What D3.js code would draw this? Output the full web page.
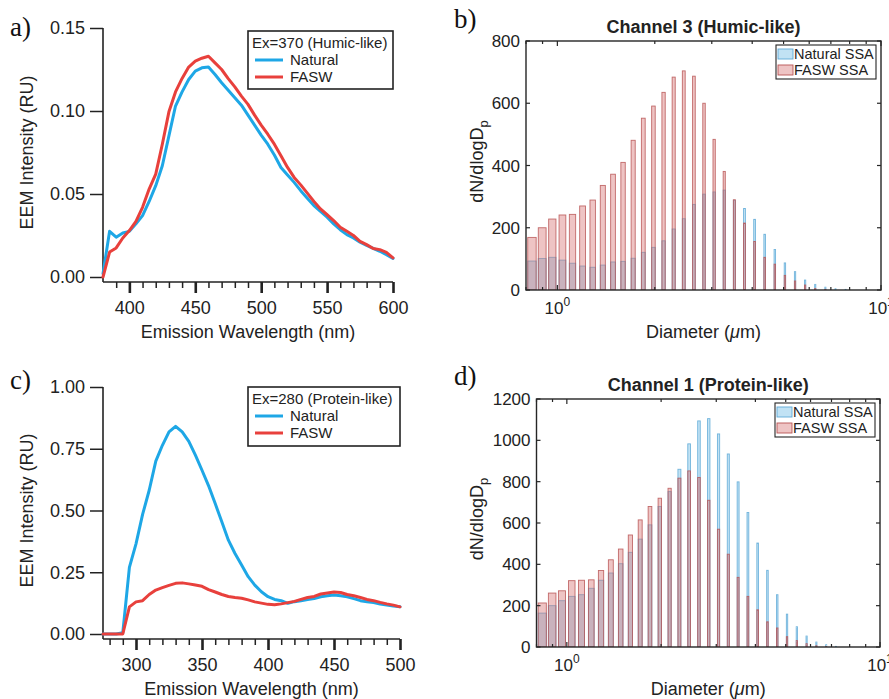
<!DOCTYPE html>
<html>
<head>
<meta charset="utf-8">
<script src="https://cdn.jsdelivr.net/npm/d3@7"></script>
<style>
  body { margin: 0; background: #fff; }
  text { font-family: "Liberation Sans", Arial, sans-serif; fill: #222; }
</style>
</head>
<body>
<svg id="fig" width="889" height="699"></svg>
<script>
// ---- Emission spectra, Ex = 370 nm (humic-like) ----
const humicWavelength = [380, 385, 390, 395, 400, 405, 410, 415, 420, 425, 430, 435, 440, 445, 450, 455, 460,
  465, 470, 475, 480, 485, 490, 495, 500, 505, 510, 515, 520, 525, 530, 535, 540, 545, 550, 555, 560,
  565, 570, 575, 580, 585, 590, 595, 600];
const humicNatural = [0.002, 0.0275, 0.0240, 0.0265, 0.0275, 0.0320, 0.0370, 0.0455, 0.0550, 0.0670, 0.0850,
  0.1030, 0.1115, 0.1190, 0.1240, 0.1260, 0.1265, 0.1220, 0.1170, 0.1125, 0.1080, 0.1035, 0.0975, 0.0915,
  0.0855, 0.0800, 0.0735, 0.0660, 0.0615, 0.0570, 0.0520, 0.0475, 0.0430, 0.0395, 0.0360, 0.0320, 0.0285,
  0.0255, 0.0235, 0.0210, 0.0190, 0.0172, 0.0155, 0.0135, 0.0112];
const humicFASW = [0.000, 0.0150, 0.0175, 0.0235, 0.0280, 0.0335, 0.0420, 0.0530, 0.0620, 0.0800, 0.0995,
  0.1115, 0.1196, 0.1265, 0.1300, 0.1318, 0.1330, 0.1290, 0.1250, 0.1195, 0.1145, 0.1090, 0.1040, 0.0975,
  0.0915, 0.0860, 0.0800, 0.0730, 0.0660, 0.0600, 0.0555, 0.0505, 0.0455, 0.0410, 0.0375, 0.0340, 0.0300,
  0.0275, 0.0250, 0.0215, 0.0195, 0.0172, 0.0165, 0.0148, 0.0115];

// ---- Emission spectra, Ex = 280 nm (protein-like) ----
const proteinWavelength = [275, 280, 285, 290, 295, 300, 305, 310, 315, 320, 325, 330, 335, 340, 345, 350, 355,
  360, 365, 370, 375, 380, 385, 390, 395, 400, 405, 410, 415, 420, 425, 430, 435, 440, 445, 450, 455,
  460, 465, 470, 475, 480, 485, 490, 495, 500];
const proteinNatural = [0, 0, 0, 0.005, 0.270, 0.365, 0.484, 0.582, 0.700, 0.764, 0.818, 0.841, 0.818, 0.780,
  0.724, 0.663, 0.600, 0.528, 0.454, 0.380, 0.326, 0.279, 0.232, 0.198, 0.171, 0.151, 0.140, 0.135, 0.124,
  0.131, 0.135, 0.140, 0.144, 0.151, 0.155, 0.158, 0.155, 0.151, 0.143, 0.135, 0.131, 0.127, 0.121, 0.117,
  0.113, 0.110];
const proteinFASW = [0, 0, 0, 0, 0.110, 0.130, 0.135, 0.160, 0.178, 0.188, 0.197, 0.205, 0.207, 0.203, 0.198,
  0.193, 0.180, 0.170, 0.160, 0.152, 0.148, 0.145, 0.138, 0.130, 0.125, 0.120, 0.118, 0.122, 0.127, 0.132,
  0.140, 0.148, 0.152, 0.162, 0.166, 0.170, 0.168, 0.160, 0.155, 0.148, 0.140, 0.135, 0.128, 0.122, 0.117,
  0.110];

// ---- Size distributions (dN/dlogDp) per size channel ----
const diameter = [0.835, 0.898, 0.965, 1.037, 1.114, 1.197, 1.286, 1.382, 1.486, 1.596, 1.715, 1.843, 1.981,
  2.129, 2.288, 2.458, 2.642, 2.839, 3.051, 3.278, 3.523, 3.786, 4.068, 4.371, 4.698, 5.048, 5.425, 5.829,
  6.264, 6.732, 7.234, 7.774, 8.354, 8.977, 9.647];
const ch3Natural = [93, 101, 105, 96, 86, 77, 73, 80, 90, 92, 102, 121, 137, 158, 196, 229, 275, 308, 315, 321,
  288, 262, 227, 179, 130, 87, 59, 32, 18, 9, 4, 2, 0, 0, 0];
const ch3FASW = [169, 200, 228, 241, 243, 270, 289, 336, 372, 410, 481, 552, 591, 635, 684, 704, 687, 600, 484,
  381, 290, 215, 156, 105, 83, 47, 29, 16, 5, 2, 0, 0, 0, 0, 0];
const ch1Natural = [164, 200, 224, 245, 253, 284, 323, 358, 403, 458, 522, 591, 680, 752, 860, 983, 1094, 1105,
  1031, 934, 799, 651, 503, 371, 253, 159, 98, 53, 24, 11, 3, 0, 0, 0, 0];
const ch1FASW = [213, 261, 272, 321, 323, 325, 370, 422, 474, 542, 615, 680, 720, 768, 817, 852, 820, 710, 570,
  449, 337, 245, 180, 122, 92, 50, 31, 16, 6, 2, 0, 0, 0, 0, 0];

// ---- Tick values ----
const humicXTicks = [400, 450, 500, 550, 600];
const humicXMinor = [390, 410, 420, 430, 440, 460, 470, 480, 490, 510, 520, 530, 540, 560, 570, 580, 590];
const humicYTicks = [0, 0.05, 0.10, 0.15];
const proteinXTicks = [300, 350, 400, 450, 500];
const proteinXMinor = [280, 290, 310, 320, 330, 340, 360, 370, 380, 390, 410, 420, 430, 440, 460, 470, 480, 490];
const proteinYTicks = [0, 0.25, 0.50, 0.75, 1.00];
const sizeXMajor = [1, 10];
const sizeXMinor = [0.8, 0.9, 2, 3, 4, 5, 6, 7, 8, 9];
const ch3YTicks = [0, 200, 400, 600, 800];
const ch1YTicks = [0, 200, 400, 600, 800, 1000, 1200];

const BLUE = "#1ea7e6", RED = "#e8403c", INK = "#222";
const svg = d3.select("#fig");
svg.append("rect").attr("width", 889).attr("height", 699).attr("fill", "#fff");

function panelLabel(txt, x, y) {
  svg.append("text").attr("x", x).attr("y", y).text(txt)
    .style("font-family", '"Liberation Serif", "Times New Roman", serif')
    .style("font-size", "27px").style("fill", "#111");
}

// Igor-style spectrum panel with offset x axis
function spectrumPanel(c) {
  const g = svg.append("g");
  const x = d3.scaleLinear().domain(c.xDomain).range([c.left, c.right]);
  const y = d3.scaleLinear().domain(c.yDomain).range([c.bottom, c.top]);
  const axisY = c.bottom + 5;

  // y axis
  const ya = g.append("g").attr("transform", `translate(${c.left},0)`)
    .call(d3.axisLeft(y).tickValues(c.yTicks).tickFormat(d3.format(c.yFmt)).tickSize(13).tickPadding(5));
  ya.select(".domain").remove();
  ya.selectAll(".tick line").attr("stroke", INK).attr("stroke-width", 1.5);
  ya.selectAll(".tick text").style("font-size", "18px").style("font-family", '"Liberation Sans", Arial, sans-serif').attr("fill", INK);
  g.append("line").attr("x1", c.left).attr("x2", c.left).attr("y1", c.top).attr("y2", axisY)
    .attr("stroke", INK).attr("stroke-width", 1.6);

  // x axis (major + minor)
  const xa = g.append("g").attr("transform", `translate(0,${axisY})`)
    .call(d3.axisBottom(x).tickValues(c.xTicks).tickFormat(d3.format("d")).tickSize(11).tickPadding(8));
  xa.select(".domain").remove();
  xa.selectAll(".tick line").attr("stroke", INK).attr("stroke-width", 2.6);
  xa.selectAll(".tick text").style("font-size", "18px").style("font-family", '"Liberation Sans", Arial, sans-serif').attr("fill", INK);
  const xm = g.append("g").attr("transform", `translate(0,${axisY})`)
    .call(d3.axisBottom(x).tickValues(c.xMinor).tickFormat("").tickSize(6));
  xm.select(".domain").remove();
  xm.selectAll(".tick line").attr("stroke", INK).attr("stroke-width", 1.5);
  g.append("line").attr("x1", c.left).attr("x2", c.right).attr("y1", axisY).attr("y2", axisY)
    .attr("stroke", INK).attr("stroke-width", 1.6);

  // titles
  g.append("text").attr("x", (c.left + c.right) / 2).attr("y", axisY + 56).attr("text-anchor", "middle")
    .style("font-size", "18px").text("Emission Wavelength (nm)");
  g.append("text").attr("transform", `translate(33,${(c.top + c.bottom) / 2}) rotate(-90)`)
    .attr("text-anchor", "middle").style("font-size", "18px").text("EEM Intensity (RU)");

  // curves
  const line = d3.line().x(d => x(d[0])).y(d => y(d[1]));
  [[c.natural, BLUE], [c.fasw, RED]].forEach(([vals, col]) => {
    g.append("path").datum(c.wl.map((w, i) => [w, vals[i]]))
      .attr("d", line).attr("fill", "none").attr("stroke", col)
      .attr("stroke-width", 3).attr("stroke-linejoin", "round").attr("stroke-linecap", "round");
  });

  // legend
  const L = c.legend;
  g.append("rect").attr("x", L.x).attr("y", L.y).attr("width", L.w).attr("height", L.h)
    .attr("fill", "#fff").attr("stroke", INK).attr("stroke-width", 1.6);
  g.append("text").attr("x", L.x + 4).attr("y", L.y + 17).style("font-size", "15px").text(L.title);
  [["Natural", BLUE], ["FASW", RED]].forEach(([name, col], i) => {
    const ly = L.y + 29 + i * 17;
    g.append("line").attr("x1", L.x + 7).attr("x2", L.x + 35).attr("y1", ly).attr("y2", ly)
      .attr("stroke", col).attr("stroke-width", 3);
    g.append("text").attr("x", L.x + 42).attr("y", ly + 5).style("font-size", "15px").text(name);
  });
}

// MATLAB-style boxed histogram panel on a log diameter axis
function sizePanel(c) {
  const g = svg.append("g");
  const x = d3.scaleLog().domain([0.8, 10]).range([c.left, c.right]);
  const y = d3.scaleLinear().domain(c.yDomain).range([c.bottom, c.top]);
  const halfWidth = 0.025; // bar width in µm

  const clip = "clip-" + c.id;
  g.append("clipPath").attr("id", clip).append("rect")
    .attr("x", c.left).attr("y", c.top).attr("width", c.right - c.left).attr("height", c.bottom - c.top);

  const bars = g.append("g").attr("clip-path", `url(#${clip})`);
  [[c.natural, "rgb(100,182,228)", "rgb(95,170,215)"], [c.fasw, "rgb(212,108,108)", "rgb(185,85,85)"]]
    .forEach(([vals, fill, edge]) => {
      bars.selectAll(null).data(diameter.map((d, i) => [d, vals[i]]).filter(d => d[1] > 0))
        .enter().append("rect")
        .attr("x", d => x(d[0] - halfWidth))
        .attr("width", d => x(d[0] + halfWidth) - x(d[0] - halfWidth))
        .attr("y", d => y(d[1]))
        .attr("height", d => y(0) - y(d[1]))
        .attr("fill", fill).attr("fill-opacity", 0.4)
        .attr("stroke", edge).attr("stroke-opacity", 0.85).attr("stroke-width", 0.9);
    });

  // frame
  g.append("rect").attr("x", c.left).attr("y", c.top).attr("width", c.right - c.left)
    .attr("height", c.bottom - c.top).attr("fill", "none").attr("stroke", "#262626").attr("stroke-width", 1.4);

  // ticks pointing inward on all four sides
  const tk = g.append("g").attr("stroke", "#262626").attr("stroke-width", 1.2);
  c.yTicks.forEach(v => {
    tk.append("line").attr("x1", c.left).attr("x2", c.left + 4).attr("y1", y(v)).attr("y2", y(v));
    tk.append("line").attr("x1", c.right).attr("x2", c.right - 4).attr("y1", y(v)).attr("y2", y(v));
  });
  sizeXMajor.concat(sizeXMinor).forEach(v => {
    const len = sizeXMajor.includes(v) ? 5 : 3;
    tk.append("line").attr("x1", x(v)).attr("x2", x(v)).attr("y1", c.bottom).attr("y2", c.bottom - len);
    tk.append("line").attr("x1", x(v)).attr("x2", x(v)).attr("y1", c.top).attr("y2", c.top + len);
  });

  // y tick labels
  g.selectAll(null).data(c.yTicks).enter().append("text")
    .attr("x", c.left - 6).attr("y", d => y(d) + 6).attr("text-anchor", "end")
    .style("font-size", "17px").text(d => d);

  // x tick labels as powers of ten
  sizeXMajor.forEach(v => {
    const t = g.append("text").attr("x", x(v)).attr("y", c.bottom + 24).attr("text-anchor", "middle")
      .style("font-size", "17px");
    t.append("tspan").text("10");
    t.append("tspan").attr("dy", -8).style("font-size", "12px").text(String(Math.round(Math.log10(v))));
  });

  // axis titles
  const xt = g.append("text").attr("x", (c.left + c.right) / 2).attr("y", c.bottom + 48)
    .attr("text-anchor", "middle").style("font-size", "18px");
  xt.append("tspan").text("Diameter (");
  xt.append("tspan").style("font-style", "italic").text("\u03bc");
  xt.append("tspan").text("m)");

  const yt = g.append("text").attr("transform", `translate(483,${(c.top + c.bottom) / 2 - 4}) rotate(-90)`)
    .attr("text-anchor", "middle").style("font-size", "18px");
  yt.append("tspan").text("dN/dlogD");
  yt.append("tspan").attr("dy", 5).style("font-size", "13px").text("p");

  g.append("text").attr("x", (c.left + c.right) / 2).attr("y", c.top - 8).attr("text-anchor", "middle")
    .style("font-size", "18px").style("font-weight", "bold").text(c.title);

  // legend
  const lx = c.right - 105, ly = c.top + 4;
  g.append("rect").attr("x", lx).attr("y", ly).attr("width", 100).attr("height", 34)
    .attr("fill", "#fff").attr("stroke", "#262626").attr("stroke-width", 1.1);
  [["Natural SSA", "rgb(100,182,228)", "rgb(95,170,215)"], ["FASW SSA", "rgb(212,108,108)", "rgb(185,85,85)"]]
    .forEach(([name, fill, edge], i) => {
      const cy = ly + 9 + i * 16;
      g.append("rect").attr("x", lx + 2).attr("y", cy - 5).attr("width", 15).attr("height", 10)
        .attr("fill", fill).attr("fill-opacity", 0.4).attr("stroke", edge).attr("stroke-width", 0.9);
      g.append("text").attr("x", lx + 18).attr("y", cy + 5).style("font-size", "14.5px").text(name);
    });
}

spectrumPanel({
  xDomain: [380, 600], yDomain: [0, 0.15], left: 103, right: 393, top: 28, bottom: 277,
  xTicks: humicXTicks, xMinor: humicXMinor, yTicks: humicYTicks, yFmt: ".2f",
  wl: humicWavelength, natural: humicNatural, fasw: humicFASW,
  legend: { x: 248, y: 31, w: 145, h: 58, title: "Ex=370 (Humic-like)" }
});
spectrumPanel({
  xDomain: [275, 500], yDomain: [0, 1], left: 103, right: 400, top: 387, bottom: 634,
  xTicks: proteinXTicks, xMinor: proteinXMinor, yTicks: proteinYTicks, yFmt: ".2f",
  wl: proteinWavelength, natural: proteinNatural, fasw: proteinFASW,
  legend: { x: 248, y: 387, w: 152, h: 59, title: "Ex=280 (Protein-like)" }
});
sizePanel({
  id: "b", left: 526, right: 881, top: 41, bottom: 290, yDomain: [0, 800], yTicks: ch3YTicks,
  natural: ch3Natural, fasw: ch3FASW, title: "Channel 3 (Humic-like)"
});
sizePanel({
  id: "d", left: 536.5, right: 880, top: 399, bottom: 647, yDomain: [0, 1200], yTicks: ch1YTicks,
  natural: ch1Natural, fasw: ch1FASW, title: "Channel 1 (Protein-like)"
});

panelLabel("a)", 10, 36);
panelLabel("b)", 454, 28);
panelLabel("c)", 10, 389);
panelLabel("d)", 454, 385);
</script>
</body>
</html>
